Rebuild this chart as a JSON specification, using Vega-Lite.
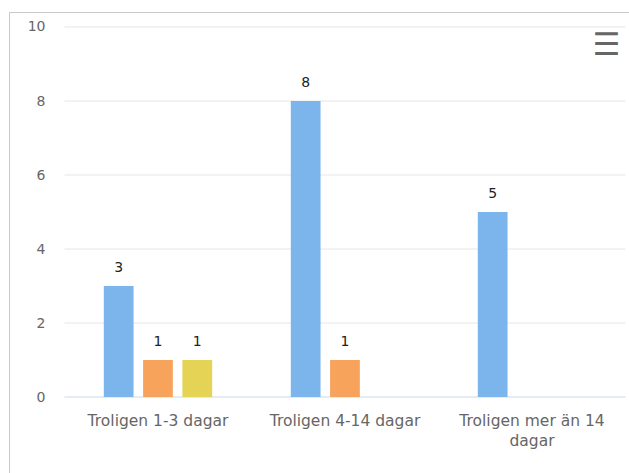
{
  "$schema": "https://vega.github.io/schema/vega-lite/v6.json",
  "width": 625,
  "height": 468,
  "autosize": "none",
  "padding": {"left": 9, "top": 12, "right": 0, "bottom": 0},
  "background": "white",
  "config": {
    "font": "DejaVu Sans",
    "view": {"stroke": "#c8c8c8", "strokeWidth": 1}
  },
  "resolve": {"scale": {"color": "independent"}},
  "datasets": {
    "bars": [
      {"kategori": "Troligen 1-3 dagar", "serie": "Serie 1", "antal": 3},
      {"kategori": "Troligen 1-3 dagar", "serie": "Serie 2", "antal": 1},
      {"kategori": "Troligen 1-3 dagar", "serie": "Serie 3", "antal": 1},
      {"kategori": "Troligen 4-14 dagar", "serie": "Serie 1", "antal": 8},
      {"kategori": "Troligen 4-14 dagar", "serie": "Serie 2", "antal": 1},
      {"kategori": "Troligen mer än 14 dagar", "serie": "Serie 1", "antal": 5}
    ],
    "grid": [
      {"v": 0, "kind": "base"},
      {"v": 2, "kind": "grid"},
      {"v": 4, "kind": "grid"},
      {"v": 6, "kind": "grid"},
      {"v": 8, "kind": "grid"},
      {"v": 10, "kind": "grid"}
    ],
    "meny": [{"ikon": "☰"}]
  },
  "layer": [
    {
      "data": {"name": "grid"},
      "mark": {"type": "rule", "strokeWidth": 1},
      "encoding": {
        "y": {"field": "v", "type": "quantitative"},
        "x": {"datum": "Troligen 1-3 dagar", "type": "nominal", "bandPosition": 0},
        "x2": {"datum": "Troligen mer än 14 dagar", "bandPosition": 1},
        "color": {
          "field": "kind",
          "type": "nominal",
          "scale": {"domain": ["base", "grid"], "range": ["#ccd6eb", "#e6e6e6"]},
          "legend": null
        }
      }
    },
    {
      "data": {"name": "bars"},
      "mark": {"type": "bar"},
      "encoding": {
        "x": {
          "field": "kategori",
          "type": "nominal",
          "sort": ["Troligen 1-3 dagar", "Troligen 4-14 dagar", "Troligen mer än 14 dagar"],
          "scale": {"paddingInner": 0, "paddingOuter": 0.1711, "align": 0.867},
          "axis": {
            "title": null,
            "orient": "bottom",
            "offset": -83,
            "bandPosition": 0.5,
            "domain": false,
            "ticks": false,
            "tickSize": 0,
            "labelPadding": 16,
            "labelAngle": 0,
            "labelAlign": "center",
            "labelBaseline": "top",
            "labelFontSize": 15.5,
            "labelLineHeight": 20,
            "labelColor": "#666666",
            "labelLimit": 300,
            "labelExpr": "datum.label == 'Troligen mer än 14 dagar' ? ['Troligen mer än 14', 'dagar'] : datum.label"
          }
        },
        "xOffset": {
          "field": "serie",
          "type": "nominal",
          "scale": {"domain": ["Serie 1", "Serie 2", "Serie 3"], "paddingInner": 0.2432, "paddingOuter": 1.1486}
        },
        "y": {
          "field": "antal",
          "type": "quantitative",
          "scale": {"domain": [-2.2432, 10.4054], "nice": false, "zero": false},
          "axis": {
            "title": null,
            "values": [0, 2, 4, 6, 8, 10],
            "grid": false,
            "domain": false,
            "ticks": false,
            "tickSize": 0,
            "offset": -36,
            "labelPadding": 0,
            "labelFontSize": 14,
            "labelColor": "#666666"
          }
        },
        "color": {
          "field": "serie",
          "type": "nominal",
          "scale": {"domain": ["Serie 1", "Serie 2", "Serie 3"], "range": ["#7cb5ec", "#f7a35c", "#e4d354"]},
          "legend": null
        }
      }
    },
    {
      "data": {"name": "bars"},
      "mark": {"type": "text", "baseline": "bottom", "dy": -11, "fontSize": 14, "fontWeight": "normal", "color": "#222222"},
      "encoding": {
        "x": {"field": "kategori", "type": "nominal", "sort": ["Troligen 1-3 dagar", "Troligen 4-14 dagar", "Troligen mer än 14 dagar"]},
        "xOffset": {"field": "serie", "type": "nominal"},
        "y": {"field": "antal", "type": "quantitative"},
        "text": {"field": "antal", "type": "quantitative"}
      }
    },
    {
      "data": {"name": "meny"},
      "mark": {"type": "text", "align": "right", "baseline": "middle", "dx": -5, "dy": 2, "fontSize": 31, "fontWeight": "bold", "color": "#666666"},
      "encoding": {
        "x": {"datum": "Troligen mer än 14 dagar", "type": "nominal", "bandPosition": 1},
        "y": {"datum": 9.54, "type": "quantitative"},
        "text": {"field": "ikon", "type": "nominal"}
      }
    }
  ]
}
